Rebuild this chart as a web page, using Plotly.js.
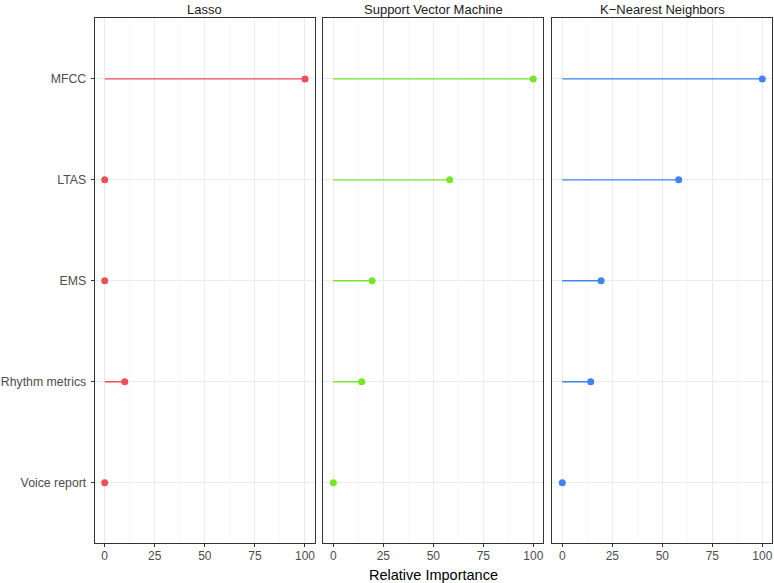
<!DOCTYPE html>
<html>
<head>
<meta charset="utf-8">
<script src="https://cdn.plot.ly/plotly-3.0.1.min.js"></script>
<style>html,body{margin:0;padding:0;background:#fff;}#chart{width:774px;height:583px;}</style>
</head>
<body>
<div id="chart"></div>
<script>
const features = ['MFCC', 'LTAS', 'EMS', 'Rhythm metrics', 'Voice report'];
const models = ['Lasso', 'Support Vector Machine', 'K\u2212Nearest Neighbors'];
const lassoValues = [100, 0, 0, 10, 0];
const svmValues = [100, 58.2, 19.4, 14.2, 0];
const knnValues = [100, 58.2, 19.4, 14.2, 0];
const xTicks = [0, 25, 50, 75, 100];
const colors = ['#F04E58', '#76E629', '#3D84F0'];

const allValues = [lassoValues, svmValues, knnValues];
const domains = [[94.7/774, 315/774], [323.3/774, 543.3/774], [552.3/774, 772.3/774]];
const yDomain = [1 - 543.3/583, 1 - 18.3/583];
const font = 'Liberation Sans, Arial, sans-serif';
const catOrder = features.slice().reverse();

const traces = [];
const layout = {
  width: 774, height: 583,
  margin: {l: 0, r: 0, t: 0, b: 0},
  paper_bgcolor: '#fff', plot_bgcolor: '#fff',
  showlegend: false,
  font: {family: font},
  annotations: [],
};

allValues.forEach((vals, i) => {
  const xa = i === 0 ? 'x' : 'x' + (i + 1);
  const ya = i === 0 ? 'y' : 'y' + (i + 1);
  const segX = [], segY = [];
  vals.forEach((v, k) => { segX.push(0, v, null); segY.push(features[k], features[k], null); });
  traces.push({type: 'scatter', mode: 'lines', x: segX, y: segY, xaxis: xa, yaxis: ya,
    line: {color: colors[i], width: 1.4}, hoverinfo: 'skip'});
  traces.push({type: 'scatter', mode: 'markers', x: vals, y: features, xaxis: xa, yaxis: ya,
    marker: {color: colors[i], size: 7}});

  const xKey = i === 0 ? 'xaxis' : 'xaxis' + (i + 1);
  const yKey = i === 0 ? 'yaxis' : 'yaxis' + (i + 1);
  layout[xKey] = {
    domain: domains[i], anchor: ya, range: [-5, 105],
    tickmode: 'array', tickvals: xTicks, ticktext: xTicks.map(String),
    ticks: 'outside', ticklen: 3, tickcolor: '#333', tickwidth: 1,
    ticklabelstandoff: -2,
    tickfont: {size: 12, color: '#4d4d4d', family: font},
    showgrid: true, gridcolor: '#ebebeb', gridwidth: 1,
    minor: {tickmode: 'array', tickvals: [12.5, 37.5, 62.5, 87.5], showgrid: true, gridcolor: '#f3f3f3', gridwidth: 0.6, ticks: ''},
    zeroline: false, showline: true, mirror: true, linecolor: '#333', linewidth: 1,
    automargin: false, fixedrange: true,
  };
  layout[yKey] = {
    domain: yDomain, anchor: xa, type: 'category',
    categoryorder: 'array', categoryarray: catOrder, range: [-0.6, 4.6],
    showticklabels: i === 0, ticks: i === 0 ? 'outside' : '', ticklen: 3, tickcolor: '#333', tickwidth: 1,
    ticklabelstandoff: 2,
    tickfont: {size: 12.3, color: '#4d4d4d', family: font},
    showgrid: true, gridcolor: '#ebebeb', gridwidth: 1,
    zeroline: false, showline: true, mirror: true, linecolor: '#333', linewidth: 1,
    automargin: false, fixedrange: true,
  };
  layout.annotations.push({
    text: models[i], xref: 'paper', yref: 'paper',
    x: (domains[i][0] + domains[i][1]) / 2, y: yDomain[1], yshift: 9,
    xanchor: 'center', yanchor: 'middle', showarrow: false,
    font: {size: 13, color: '#1a1a1a', family: font},
  });
});

layout.annotations.push({
  text: 'Relative Importance', xref: 'paper', yref: 'paper',
  x: (domains[0][0] + domains[2][1]) / 2, y: 0, yshift: 8,
  xanchor: 'center', yanchor: 'middle', showarrow: false,
  font: {size: 14.5, color: '#000', family: font},
});

Plotly.newPlot('chart', traces, layout, {displayModeBar: false, staticPlot: true});
</script>
</body>
</html>
